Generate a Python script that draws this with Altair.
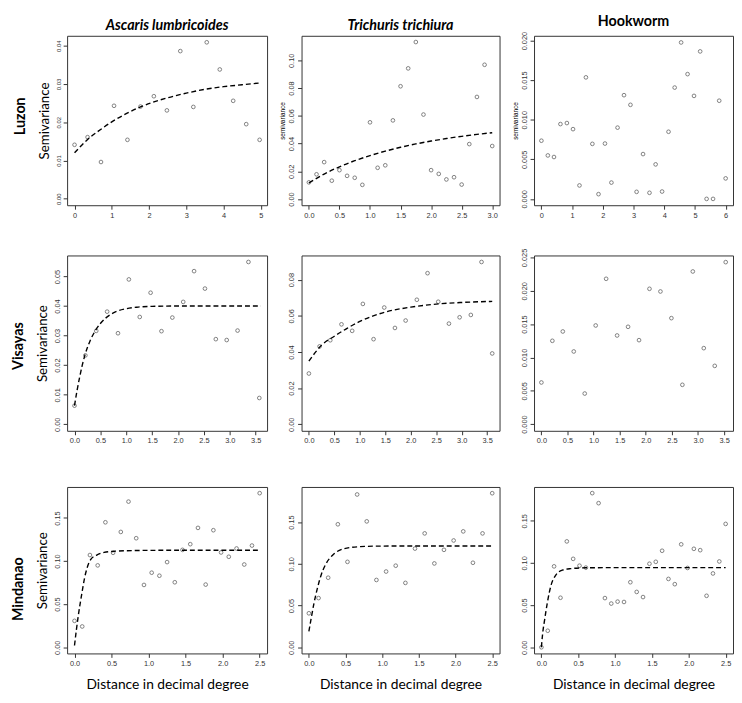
import altair as alt
import pandas as pd

TITLE_FONT = "Lato"
TICK_FONT = "Liberation Sans"

# ---------------- data ----------------
# Luzon - Ascaris lumbricoides
luz_asc_d = [0, 0.35, 0.71, 1.06, 1.42, 1.77, 2.13, 2.48, 2.84, 3.19, 3.55, 3.9, 4.26, 4.61, 4.97]
luz_asc_g = [0.0141, 0.0161, 0.0096, 0.0243, 0.0154, 0.0241, 0.0268, 0.0231, 0.0386, 0.0240,
             0.0409, 0.0338, 0.0256, 0.0195, 0.0154]
luz_asc_fit_d = [0, 0.35, 0.7, 1.0, 1.4, 1.77, 2.1, 2.5, 3.0, 3.5, 4.0, 4.5, 5.0]
luz_asc_fit_g = [0.0120, 0.0155, 0.0181, 0.0201, 0.0223, 0.0240, 0.0252, 0.0264, 0.0276, 0.0286,
                 0.0293, 0.0298, 0.0303]

# Luzon - Trichuris trichiura
luz_tri_d = [0, 0.125, 0.25, 0.375, 0.5, 0.625, 0.75, 0.875, 1.0, 1.125, 1.25, 1.375, 1.5, 1.625,
             1.75, 1.875, 2.0, 2.125, 2.25, 2.375, 2.5, 2.625, 2.75, 2.875, 3.0]
luz_tri_g = [0.0120, 0.0178, 0.0266, 0.0132, 0.0208, 0.0167, 0.0153, 0.0102, 0.0553, 0.0225,
             0.0243, 0.0567, 0.0813, 0.0942, 0.1132, 0.0609, 0.0208, 0.0181, 0.0141, 0.0157,
             0.0104, 0.0396, 0.0736, 0.0968, 0.0382]
luz_tri_fit_d = [0, 0.25, 0.5, 0.75, 1.0, 1.25, 1.5, 1.75, 2.0, 2.25, 2.5, 2.75, 3.0]
luz_tri_fit_g = [0.0116, 0.0180, 0.0232, 0.0276, 0.0313, 0.0345, 0.0373, 0.0397, 0.0418, 0.0436,
                 0.0452, 0.0466, 0.0478]

# Luzon - Hookworm
luz_hook_d = [0, 0.21, 0.41, 0.62, 0.83, 1.03, 1.24, 1.45, 1.66, 1.86, 2.07, 2.28, 2.48, 2.69, 2.9,
              3.1, 3.31, 3.52, 3.72, 3.93, 4.14, 4.34, 4.55, 4.76, 4.97, 5.17, 5.38, 5.59, 5.79, 6.0]
luz_hook_g = [0.00735, 0.00549, 0.00529, 0.00945, 0.00958, 0.00881, 0.0017, 0.01535, 0.00695,
              0.0006, 0.00699, 0.00206, 0.0090, 0.0131, 0.01188, 0.00089, 0.00566, 0.00077,
              0.00436, 0.00093, 0.00848, 0.01406, 0.01976, 0.01576, 0.01301, 0.01863, 0.0, 0.0,
              0.0124, 0.00259]

# Visayas - Ascaris lumbricoides
vis_asc_d = [0, 0.21, 0.42, 0.63, 0.84, 1.05, 1.26, 1.47, 1.68, 1.89, 2.1, 2.31, 2.52, 2.73, 2.94,
             3.15, 3.36, 3.57]
vis_asc_g = [0.0063, 0.0233, 0.0316, 0.0381, 0.0308, 0.0490, 0.0363, 0.0445, 0.0315, 0.0361,
             0.0414, 0.0518, 0.0459, 0.0288, 0.0285, 0.0317, 0.0549, 0.0089]
vis_asc_fit_d = [0, 0.05, 0.1, 0.15, 0.2, 0.3, 0.4, 0.5, 0.6, 0.7, 0.8, 1.0, 1.2, 1.5, 2.0, 3.6]
vis_asc_fit_g = [0.0063, 0.0115, 0.0160, 0.0200, 0.0233, 0.0282, 0.0316, 0.0341, 0.0359, 0.0372,
                 0.0381, 0.0391, 0.0396, 0.0399, 0.0400, 0.0400]

# Visayas - Trichuris trichiura
vis_tri_d = [0, 0.21, 0.42, 0.64, 0.85, 1.06, 1.27, 1.48, 1.69, 1.9, 2.12, 2.33, 2.54, 2.75, 2.96,
             3.18, 3.39, 3.6]
vis_tri_g = [0.0281, 0.0431, 0.0465, 0.0553, 0.0517, 0.0666, 0.0471, 0.0646, 0.0533, 0.0574,
             0.0689, 0.0836, 0.0678, 0.0557, 0.0592, 0.0605, 0.0898, 0.0392]
vis_tri_fit_d = [0, 0.25, 0.5, 0.75, 1.0, 1.25, 1.5, 2.0, 2.5, 3.0, 3.6]
vis_tri_fit_g = [0.0349, 0.0438, 0.0487, 0.0531, 0.0569, 0.0598, 0.0621, 0.0648, 0.0665, 0.0674,
                 0.0680]

# Visayas - Hookworm
vis_hook_d = [0, 0.21, 0.41, 0.62, 0.83, 1.04, 1.24, 1.45, 1.66, 1.87, 2.07, 2.28, 2.49, 2.7, 2.9,
              3.11, 3.32, 3.53]
vis_hook_g = [0.00625, 0.0125, 0.0139, 0.0109, 0.00459, 0.0148, 0.0218, 0.0133, 0.0146, 0.0126,
              0.0203, 0.0199, 0.0159, 0.0059, 0.0229, 0.0114, 0.00874, 0.0243]

# Mindanao - Ascaris lumbricoides
min_asc_d = [0, 0.104, 0.208, 0.313, 0.417, 0.521, 0.625, 0.729, 0.833, 0.938, 1.042, 1.146, 1.25,
             1.354, 1.458, 1.563, 1.667, 1.771, 1.875, 1.979, 2.083, 2.188, 2.292, 2.396, 2.5]
min_asc_g = [0.0306, 0.0241, 0.1070, 0.0950, 0.1450, 0.1096, 0.1338, 0.1690, 0.1265, 0.0723,
             0.0865, 0.0830, 0.0988, 0.0754, 0.1130, 0.1196, 0.1385, 0.0727, 0.1358, 0.1100,
             0.1050, 0.1146, 0.0960, 0.1180, 0.1788]
min_asc_fit_d = [0, 0.025, 0.05, 0.075, 0.1, 0.135, 0.17, 0.22, 0.3, 0.4, 0.55, 0.8, 1.2, 2.5]
min_asc_fit_g = [0.002, 0.020, 0.036, 0.050, 0.063, 0.080, 0.092, 0.102, 0.107, 0.110, 0.1115,
                 0.1122, 0.1125, 0.1125]

# Mindanao - Trichuris trichiura
min_tri_d = [0, 0.132, 0.263, 0.395, 0.526, 0.658, 0.789, 0.921, 1.053, 1.184, 1.316, 1.447,
             1.579, 1.711, 1.842, 1.974, 2.105, 2.237, 2.368, 2.5]
min_tri_g = [0.0407, 0.0589, 0.0833, 0.1473, 0.1023, 0.1830, 0.1508, 0.0806, 0.0907, 0.0977,
             0.0771, 0.1182, 0.1364, 0.1004, 0.1167, 0.1279, 0.1388, 0.1012, 0.1364, 0.1845]
min_tri_fit_d = [0, 0.03, 0.07, 0.12, 0.165, 0.23, 0.32, 0.48, 0.7, 1.0, 2.5]
min_tri_fit_g = [0.019, 0.034, 0.053, 0.072, 0.086, 0.0995, 0.110, 0.118, 0.1205, 0.1212, 0.1213]

# Mindanao - Hookworm
min_hook_d = [0, 0.086, 0.172, 0.259, 0.345, 0.431, 0.517, 0.603, 0.69, 0.776, 0.862, 0.948,
              1.034, 1.121, 1.207, 1.293, 1.379, 1.466, 1.552, 1.638, 1.724, 1.81, 1.897, 1.983,
              2.069, 2.155, 2.241, 2.328, 2.414, 2.5]
min_hook_g = [0.0, 0.0196, 0.0959, 0.0587, 0.1255, 0.1048, 0.0967, 0.0944, 0.1827, 0.1708,
              0.0583, 0.0518, 0.0541, 0.0537, 0.0771, 0.0656, 0.0595, 0.0990, 0.1013, 0.1144,
              0.0810, 0.0748, 0.1220, 0.0940, 0.1167, 0.1151, 0.0610, 0.0875, 0.1017, 0.1462]
min_hook_fit_d = [0, 0.015, 0.046, 0.081, 0.127, 0.195, 0.284, 0.398, 0.6, 1.0, 2.5]
min_hook_fit_g = [0, 0.0146, 0.0338, 0.053, 0.0722, 0.0856, 0.0914, 0.0932, 0.0942, 0.0944, 0.0944]

col_titles = ["Ascaris lumbricoides", "Trichuris trichiura", "Hookworm"]
row_titles = ["Luzon", "Visayas", "Mindanao"]
y_title_big = "Semivariance"
y_title_small = "semivariance"
x_title = "Distance in decimal degree"

# tick values
ticks_x_0_5 = [0, 1, 2, 3, 4, 5]
ticks_x_0_3 = [0, 0.5, 1.0, 1.5, 2.0, 2.5, 3.0]
ticks_x_0_6 = [0, 1, 2, 3, 4, 5, 6]
ticks_x_0_35 = [0, 0.5, 1.0, 1.5, 2.0, 2.5, 3.0, 3.5]
ticks_x_0_25 = [0, 0.5, 1.0, 1.5, 2.0, 2.5]
ticks_y_luz_asc = [0, 0.01, 0.02, 0.03, 0.04]
ticks_y_luz_tri = [0, 0.02, 0.04, 0.06, 0.08, 0.10]
ticks_y_luz_hook = [0, 0.005, 0.010, 0.015, 0.020]
ticks_y_vis_asc = [0, 0.01, 0.02, 0.03, 0.04, 0.05]
ticks_y_vis_tri = [0, 0.02, 0.04, 0.06, 0.08]
ticks_y_vis_hook = [0, 0.005, 0.010, 0.015, 0.020, 0.025]
ticks_y_min = [0, 0.05, 0.10, 0.15]


def panel(pdist, pgam, fdist, fgam, xdom, ydom, xticks, yticks, xfmt, yfmt, w, h,
          ytitle=None, ytitle_size=13.5, ytitle_pad=4, xtitle=None, col_title=None,
          ylab_size=7.5):
    rows = [{"d": a, "g": b, "k": "pt"} for a, b in zip(pdist, pgam)]
    rows += [{"d": a, "g": b, "k": "fit"} for a, b in zip(fdist, fgam)]
    df = pd.DataFrame(rows)

    xkw = dict(values=xticks, format=xfmt, labelFontSize=7.5, labelFlush=False,
               labelOverlap=False)
    if xtitle:
        xkw.update(title=xtitle, titleFont=TITLE_FONT, titleFontSize=14,
                   titleFontWeight="normal", titleColor="black", titlePadding=11)
    else:
        xkw["title"] = None
    ykw = dict(values=yticks, format=yfmt, labelAngle=270, labelAlign="center",
               labelBaseline="bottom", labelFontSize=ylab_size, labelFlush=False,
               labelOverlap=False)
    if ytitle:
        ykw.update(title=ytitle, titleFont=TITLE_FONT if ytitle_size > 10 else TICK_FONT,
                   titleFontSize=ytitle_size, titleFontWeight="normal", titleColor="black",
                   titlePadding=ytitle_pad)
    else:
        ykw["title"] = None

    base = alt.Chart(df).encode(
        x=alt.X("d:Q", scale=alt.Scale(domain=xdom, nice=False, zero=False),
                axis=alt.Axis(**xkw)),
        y=alt.Y("g:Q", scale=alt.Scale(domain=ydom, nice=False, zero=False),
                axis=alt.Axis(**ykw)),
    )
    pts = base.transform_filter("datum.k == 'pt'").mark_point(
        shape="circle", filled=False, size=14, strokeWidth=0.8, color="#222222")
    layers = [pts]
    if fdist:
        layers.append(base.transform_filter("datum.k == 'fit'").mark_line(
            strokeDash=[5, 3], strokeWidth=1.4, color="black", interpolate="monotone"))
    ch = alt.layer(*layers).properties(width=w, height=h)
    if col_title:
        ch = ch.properties(title=alt.Title(col_title, font=TITLE_FONT, fontSize=14.5,
                                           fontWeight="bold",
                                           fontStyle="normal" if col_title == "Hookworm" else "italic",
                                           color="black", offset=2, anchor="middle"))
    return ch


W1, W2, W3 = 203, 201, 202
H1, H2, H3 = 172, 178, 169

r1 = [
    panel(luz_asc_d, luz_asc_g, luz_asc_fit_d, luz_asc_fit_g, [-0.2, 5.17], [-0.0017, 0.0426],
          ticks_x_0_5, ticks_y_luz_asc, ".0f", ".2f", W1, H1, ytitle=y_title_big,
          col_title=col_titles[0], ylab_size=6),
    panel(luz_tri_d, luz_tri_g, luz_tri_fit_d, luz_tri_fit_g, [-0.12, 3.12], [-0.0045, 0.1177],
          ticks_x_0_3, ticks_y_luz_tri, ".1f", ".2f", W2, H1, ytitle=y_title_small,
          ytitle_size=6.5, ytitle_pad=2, col_title=col_titles[1]),
    panel(luz_hook_d, luz_hook_g, [], [], [-0.24, 6.24], [-0.0008, 0.0206],
          ticks_x_0_6, ticks_y_luz_hook, ".0f", ".3f", W3, H1, ytitle=y_title_small,
          ytitle_size=6.5, ytitle_pad=2, col_title=col_titles[2]),
]
r2 = [
    panel(vis_asc_d, vis_asc_g, vis_asc_fit_d, vis_asc_fit_g, [-0.143, 3.72], [-0.0022, 0.0571],
          ticks_x_0_35, ticks_y_vis_asc, ".1f", ".2f", W1, H2, ytitle=y_title_big),
    panel(vis_tri_d, vis_tri_g, vis_tri_fit_d, vis_tri_fit_g, [-0.144, 3.744], [-0.0036, 0.0934],
          ticks_x_0_35, ticks_y_vis_tri, ".1f", ".2f", W2, H2),
    panel(vis_hook_d, vis_hook_g, [], [], [-0.141, 3.67], [-0.001, 0.0253],
          ticks_x_0_35, ticks_y_vis_hook, ".1f", ".3f", W3, H2),
]
r3 = [
    panel(min_asc_d, min_asc_g, min_asc_fit_d, min_asc_fit_g, [-0.1, 2.6], [-0.0072, 0.186],
          ticks_x_0_25, ticks_y_min, ".1f", ".2f", W1, H3, ytitle=y_title_big, xtitle=x_title),
    panel(min_tri_d, min_tri_g, min_tri_fit_d, min_tri_fit_g, [-0.1, 2.6], [-0.0074, 0.192],
          ticks_x_0_25, ticks_y_min, ".1f", ".2f", W2, H3, xtitle=x_title),
    panel(min_hook_d, min_hook_g, min_hook_fit_d, min_hook_fit_g, [-0.1, 2.6], [-0.0073, 0.190],
          ticks_x_0_25, ticks_y_min, ".1f", ".2f", W3, H3, xtitle=x_title),
]


def row(panels, name):
    return alt.hconcat(*panels, spacing=35, bounds="flush",
                       title=alt.Title(name, orient="left", anchor="middle", font=TITLE_FONT,
                                       fontSize=14.5, fontWeight="bold", color="black",
                                       offset=9))


top = alt.vconcat(row(r1, row_titles[0]), row(r2, row_titles[1]), spacing=29)
chart = alt.vconcat(top, row(r3, row_titles[2]), spacing=42).properties(
    padding={"left": 3, "top": 0, "right": 0, "bottom": 0}
).configure_view(
    stroke="#333333", strokeWidth=1
).configure_axis(
    domain=False, grid=False, tickColor="#333333", tickSize=4, tickWidth=1,
    labelFont=TICK_FONT, labelColor="#333333", labelPadding=2
)

chart.save("out.html", embed_options={"renderer": "svg", "actions": False})
